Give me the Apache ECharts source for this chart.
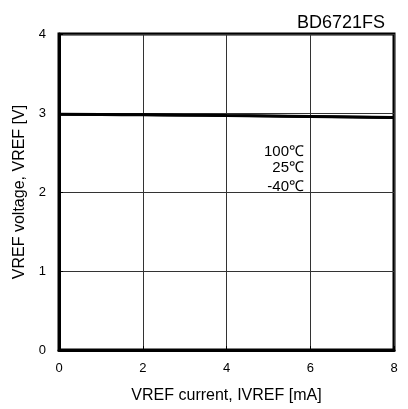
<!DOCTYPE html>
<html><head><meta charset="utf-8">
<script src="https://cdn.jsdelivr.net/npm/echarts@6/dist/echarts.min.js"></script>
<style>html,body{margin:0;padding:0;background:#fff}#c{width:408px;height:409px}</style>
</head><body><div id="c"></div>
<script>
var xValues = [0, 1, 2, 3, 4, 5, 6, 7, 8];
var v100 = [2.988, 2.984, 2.980, 2.976, 2.971, 2.966, 2.960, 2.953, 2.946];
var v25  = [2.985, 2.981, 2.977, 2.973, 2.968, 2.963, 2.957, 2.950, 2.943];
var vm40 = [2.982, 2.978, 2.974, 2.970, 2.965, 2.960, 2.954, 2.947, 2.940];
var seriesNames = ['100℃', '25℃', '-40℃'];
var font = 'Liberation Sans, Arial, sans-serif';

function pairs(v){ return xValues.map(function(x,i){return [x, v[i]];}); }
var chart = echarts.init(document.getElementById('c'), null, {renderer:'canvas'});
chart.setOption({
  animation:false,
  backgroundColor:'#fff',
  title:{text:'BD6721FS', right:18, top:9, textStyle:{fontFamily:font, fontSize:18, fontWeight:'normal', color:'#000'}},
  grid:{left:59, right:14, top:34, bottom:59, show:true, borderColor:'#000', borderWidth:3},
  xAxis:{type:'value', min:0, max:8, interval:2,
    name:'VREF current, IVREF [mA]', nameLocation:'middle', nameGap:38,
    nameTextStyle:{fontFamily:font, fontSize:16, color:'#000'},
    axisLine:{show:true, lineStyle:{color:'#000', width:3}},
    axisTick:{show:true, inside:true, length:4, lineStyle:{color:'#000', width:1}},
    axisLabel:{fontFamily:font, fontSize:13, color:'#000', margin:12},
    splitLine:{show:true, lineStyle:{color:'#333', width:1}}},
  yAxis:{type:'value', min:0, max:4, interval:1,
    name:'VREF voltage, VREF [V]', nameLocation:'middle', nameGap:31,
    nameTextStyle:{fontFamily:font, fontSize:16, color:'#000'},
    axisLine:{show:true, lineStyle:{color:'#000', width:3}},
    axisTick:{show:true, inside:true, length:4, lineStyle:{color:'#000', width:1}},
    axisLabel:{fontFamily:font, fontSize:13, color:'#000', margin:13},
    splitLine:{show:true, lineStyle:{color:'#333', width:1}}},
  series:[v100, v25, vm40].map(function(v,i){
    return {type:'line', name:seriesNames[i], data:pairs(v), showSymbol:false, smooth:true,
      lineStyle:{color:'#000', width:2.5}};
  }),
  graphic:[
    {type:'text', right:104, top:144, style:{text:'100℃', fontFamily:font, fontSize:15, fill:'#000', textAlign:'right'}},
    {type:'text', right:104, top:160, style:{text:'25℃', fontFamily:font, fontSize:15, fill:'#000', textAlign:'right'}},
    {type:'text', right:104, top:179, style:{text:'-40℃', fontFamily:font, fontSize:15, fill:'#000', textAlign:'right'}}
  ]
});
</script></body></html>
